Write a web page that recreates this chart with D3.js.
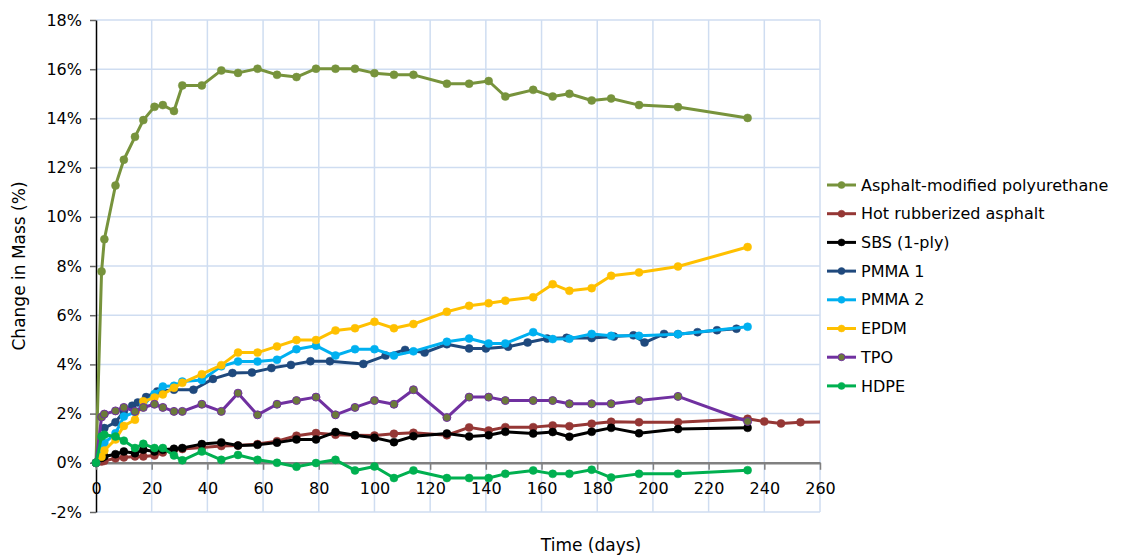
<!DOCTYPE html>
<html><head><meta charset="utf-8">
<script src="https://cdn.jsdelivr.net/npm/d3@7"></script>
<style>body{margin:0;background:#fff;} text{font-family:"DejaVu Sans",Verdana,sans-serif;}</style>
</head><body><svg id="c" width="1128" height="556"></svg>
<script>
const days = [0,2,3,7,10,14,17,21,24,28,31,38,45,51,58,65,72,79,86,93,100,107,114,126,134,141,147,157,164,170,178,185,195,209,234];
const daysPMMA1 = [0,3,7,10,13,15,18,22,28,35,42,49,56,63,70,77,84,96,104,111,118,126,134,140,148,155,162,169,178,186,193,197,204,209,216,223,230];
const daysHRA = days.concat([240,246,253,266]);

const apu  = [0,7.78,9.09,11.27,12.32,13.25,13.93,14.47,14.54,14.3,15.34,15.34,15.95,15.85,16.02,15.77,15.68,16.02,16.02,16.02,15.84,15.77,15.77,15.41,15.41,15.52,14.89,15.16,14.89,15.0,14.73,14.81,14.54,14.46,14.02];
const hra  = [0,0.05,0.08,0.18,0.22,0.26,0.26,0.3,0.42,0.53,0.56,0.62,0.68,0.7,0.76,0.88,1.1,1.21,1.14,1.12,1.11,1.18,1.22,1.12,1.44,1.31,1.45,1.45,1.52,1.49,1.59,1.67,1.65,1.65,1.79,1.68,1.6,1.65,1.66];
const sbs  = [0,0.2,0.26,0.35,0.46,0.39,0.53,0.46,0.53,0.57,0.6,0.76,0.83,0.7,0.73,0.82,0.95,0.95,1.25,1.12,1.02,0.84,1.08,1.19,1.07,1.12,1.26,1.19,1.25,1.06,1.26,1.42,1.2,1.37,1.42];
const pmma1= [0,1.41,1.65,2.09,2.32,2.45,2.67,2.9,2.97,2.97,3.41,3.65,3.67,3.85,3.98,4.13,4.13,4.02,4.36,4.59,4.48,4.82,4.65,4.65,4.72,4.89,5.05,5.08,5.07,5.13,5.18,4.89,5.24,5.23,5.31,5.39,5.45];
const pmma2= [0,0.55,0.8,1.2,1.88,2.06,2.35,2.8,3.1,3.13,3.3,3.37,3.92,4.12,4.12,4.19,4.62,4.76,4.36,4.62,4.62,4.36,4.53,4.92,5.05,4.85,4.85,5.31,5.03,5.04,5.24,5.16,5.16,5.23,5.53];
const epdm = [0,0.25,0.5,0.95,1.5,1.75,2.5,2.65,2.78,3.05,3.25,3.6,3.97,4.48,4.48,4.73,4.99,4.99,5.38,5.47,5.73,5.47,5.64,6.14,6.38,6.49,6.59,6.73,7.26,6.99,7.1,7.6,7.74,7.98,8.77];
const tpo  = [0,1.86,1.98,2.11,2.25,2.09,2.25,2.38,2.25,2.09,2.09,2.38,2.09,2.83,1.95,2.38,2.53,2.67,1.95,2.25,2.53,2.38,2.97,1.84,2.67,2.67,2.53,2.53,2.53,2.4,2.4,2.4,2.53,2.7,1.68];
const hdpe = [0,1.07,1.14,1.07,0.9,0.6,0.77,0.6,0.6,0.3,0.1,0.46,0.12,0.32,0.12,0,-0.16,-0.01,0.12,-0.31,-0.15,-0.62,-0.31,-0.62,-0.62,-0.62,-0.45,-0.31,-0.45,-0.45,-0.28,-0.6,-0.45,-0.45,-0.3];

const seriesNames = ["Asphalt-modified polyurethane","Hot rubberized asphalt","SBS (1-ply)","PMMA 1","PMMA 2","EPDM","TPO","HDPE"];
const seriesColors = ["#77933C","#953735","#000000","#1F497D","#00B0F0","#FFC000","#7030A0","#00B050"];
const markerFills = ["#77933C","#953735","#000000","#1F497D","#00B0F0","#FFC000","#6B7A3A","#00B050"];
const seriesX = [days,daysHRA,days,daysPMMA1,days,days,days,days];
const seriesY = [apu,hra,sbs,pmma1,pmma2,epdm,tpo,hdpe];

const xTicks = d3.range(0,261,20);
const yTicks = d3.range(-2,18.1,2);

const svg = d3.select("#c");
const L=96, R=820, T=20, B=512;
const x = d3.scaleLinear().domain([0,260]).range([L,R]);
const y = d3.scaleLinear().domain([-2,18]).range([B,T]);

// gridlines
svg.append("g").selectAll("line").data(yTicks).join("line")
  .attr("x1",L).attr("x2",R).attr("y1",d=>y(d)).attr("y2",d=>y(d))
  .attr("stroke","#CFDDF1").attr("stroke-width",1.5);
svg.append("g").selectAll("line").data(xTicks.slice(1)).join("line")
  .attr("x1",d=>x(d)).attr("x2",d=>x(d)).attr("y1",T).attr("y2",B)
  .attr("stroke","#CFDDF1").attr("stroke-width",1.5);

// y axis
const yAx = svg.append("g").attr("transform",`translate(${L},0)`)
  .call(d3.axisLeft(y).tickValues(yTicks).tickFormat(d=>d+"%").tickSize(6).tickSizeOuter(0));
yAx.select(".domain").attr("stroke","#000").attr("stroke-width",1.5);
yAx.selectAll(".tick line").attr("stroke","#666").attr("stroke-width",1.5);
yAx.selectAll("text").attr("font-size",16).attr("fill","#000").attr("x",-14);

// x axis at 0%
const xAx = svg.append("g").attr("transform",`translate(0,${y(0)})`)
  .call(d3.axisBottom(x).tickValues(xTicks).tickSize(7).tickSizeOuter(0));
xAx.select(".domain").attr("stroke","#808080").attr("stroke-width",2.5);
xAx.selectAll(".tick line").attr("stroke","#808080").attr("stroke-width",1.5);
xAx.selectAll("text").attr("font-size",16).attr("fill","#000").attr("dy","1.3em");

svg.append("text").attr("x",591).attr("y",551).attr("text-anchor","middle").attr("font-size",17).text("Time (days)");
svg.append("text").attr("transform","translate(25,266) rotate(-90)").attr("text-anchor","middle").attr("font-size",17).text("Change in Mass (%)");

svg.append("clipPath").attr("id","clip").append("rect").attr("x",0).attr("y",0).attr("width",R).attr("height",556);

const line = d3.line().x(d=>x(d[0])).y(d=>y(d[1]));
const plot = svg.append("g").attr("clip-path","url(#clip)");
seriesNames.forEach((n,i)=>{
  const pts = seriesX[i].map((d,j)=>[d,seriesY[i][j]]);
  const g = plot.append("g");
  g.append("path").datum(pts).attr("d",line).attr("fill","none")
    .attr("stroke",seriesColors[i]).attr("stroke-width",3).attr("stroke-linejoin","round");
  g.selectAll("circle").data(pts).join("circle")
    .attr("cx",d=>x(d[0])).attr("cy",d=>y(d[1])).attr("r",4)
    .attr("fill",markerFills[i]).attr("stroke",seriesColors[i]).attr("stroke-width",i===6?1:0.5);
});

// legend
const lg = svg.append("g");
seriesNames.forEach((n,i)=>{
  const yy = 185 + i*28.7;
  lg.append("line").attr("x1",827).attr("x2",856).attr("y1",yy).attr("y2",yy)
    .attr("stroke",seriesColors[i]).attr("stroke-width",3);
  lg.append("circle").attr("cx",841.5).attr("cy",yy).attr("r",3.5).attr("fill",markerFills[i]).attr("stroke",seriesColors[i]).attr("stroke-width",i===6?1:0.5);
  lg.append("text").attr("x",861).attr("y",yy).attr("dy","0.35em").attr("font-size",16).text(n);
});
</script></body></html>
